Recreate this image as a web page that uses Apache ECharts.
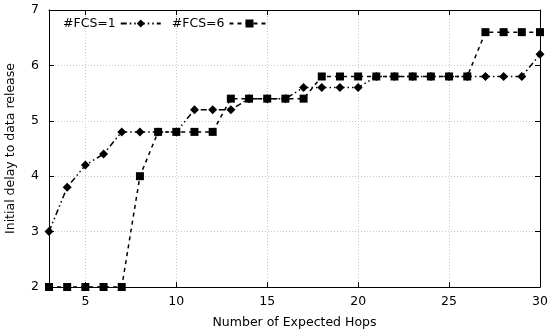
<!DOCTYPE html>
<html><head><meta charset="utf-8">
<script src="https://cdn.jsdelivr.net/npm/echarts@6/dist/echarts.min.js"></script>
<style>html,body{margin:0;padding:0;background:#fff}#c{width:550px;height:334px}</style>
</head><body><div id="c"></div>
<script>
const hops = [3,4,5,6,7,8,9,10,11,12,13,14,15,16,17,18,19,20,21,22,23,24,25,26,27,28,29,30];
const fcs1 = [3.0,3.8,4.2,4.4,4.8,4.8,4.8,4.8,5.2,5.2,5.2,5.4,5.4,5.4,5.6,5.6,5.6,5.6,5.8,5.8,5.8,5.8,5.8,5.8,5.8,5.8,5.8,6.2];
const fcs6 = [2.0,2.0,2.0,2.0,2.0,4.0,4.8,4.8,4.8,4.8,5.4,5.4,5.4,5.4,5.4,5.8,5.8,5.8,5.8,5.8,5.8,5.8,5.8,5.8,6.6,6.6,6.6,6.6];
const xTicks = [5,10,15,20,25,30];
const seriesNames = ['#FCS=1','#FCS=6'];

const font = 'DejaVu Sans';
const fs = 12.5;
const chart = echarts.init(document.getElementById('c'));
const axisLine = {show:true, onZero:false, lineStyle:{color:'#000', width:1}};
chart.setOption({
  animation:false,
  textStyle:{fontFamily:font},
  grid:{left:49, right:10, top:10, bottom:47, containLabel:false, outerBoundsMode:'none'},
  legend:{
    left:58, top:12, align:'right', itemWidth:40, itemHeight:10, itemGap:10,
    textStyle:{fontFamily:font, fontSize:fs, color:'#000'},
    data:seriesNames
  },
  xAxis:[{
    type:'value', min:3, max:30,
    name:'Number of Expected Hops', nameLocation:'middle', nameGap:29,
    nameTextStyle:{fontFamily:font, fontSize:fs, color:'#000'},
    axisLine:axisLine,
    axisTick:{show:true, inside:true, length:5, customValues:xTicks, lineStyle:{color:'#000'}},
    axisLabel:{customValues:xTicks, fontFamily:font, fontSize:fs, color:'#000', margin:8},
    splitLine:{show:true, lineStyle:{color:'#c8c8c8', type:[1,2], width:1}}
  },{
    type:'value', min:3, max:30, position:'top',
    axisLine:axisLine,
    axisTick:{show:true, inside:true, length:5, customValues:xTicks, lineStyle:{color:'#000'}},
    axisLabel:{show:false, customValues:xTicks},
    splitLine:{show:false}
  }],
  yAxis:[{
    type:'value', min:2, max:7, interval:1,
    name:'Initial delay to data release', nameLocation:'middle', nameGap:32,
    nameTextStyle:{fontFamily:font, fontSize:fs, color:'#000'},
    axisLine:axisLine,
    axisTick:{show:true, inside:true, length:5, lineStyle:{color:'#000'}},
    axisLabel:{fontFamily:font, fontSize:fs, color:'#000', margin:10},
    splitLine:{show:true, lineStyle:{color:'#c8c8c8', type:[1,2], width:1}}
  },{
    type:'value', min:2, max:7, interval:1, position:'right',
    axisLine:axisLine,
    axisTick:{show:true, inside:true, length:5, lineStyle:{color:'#000'}},
    axisLabel:{show:false},
    splitLine:{show:false}
  }],
  series:[{
    name:seriesNames[0], type:'line', xAxisIndex:0, yAxisIndex:0,
    data:hops.map((h,i)=>[h,fcs1[i]]),
    symbol:'diamond', symbolSize:9,
    itemStyle:{color:'#000'},
    lineStyle:{color:'#000', width:1.5, type:[6,3,1.5,3,1.5,3]}
  },{
    name:seriesNames[1], type:'line', xAxisIndex:0, yAxisIndex:0,
    data:hops.map((h,i)=>[h,fcs6[i]]),
    symbol:'rect', symbolSize:8,
    itemStyle:{color:'#000'},
    lineStyle:{color:'#000', width:1.5, type:[4,4]}
  }]
});
</script></body></html>
